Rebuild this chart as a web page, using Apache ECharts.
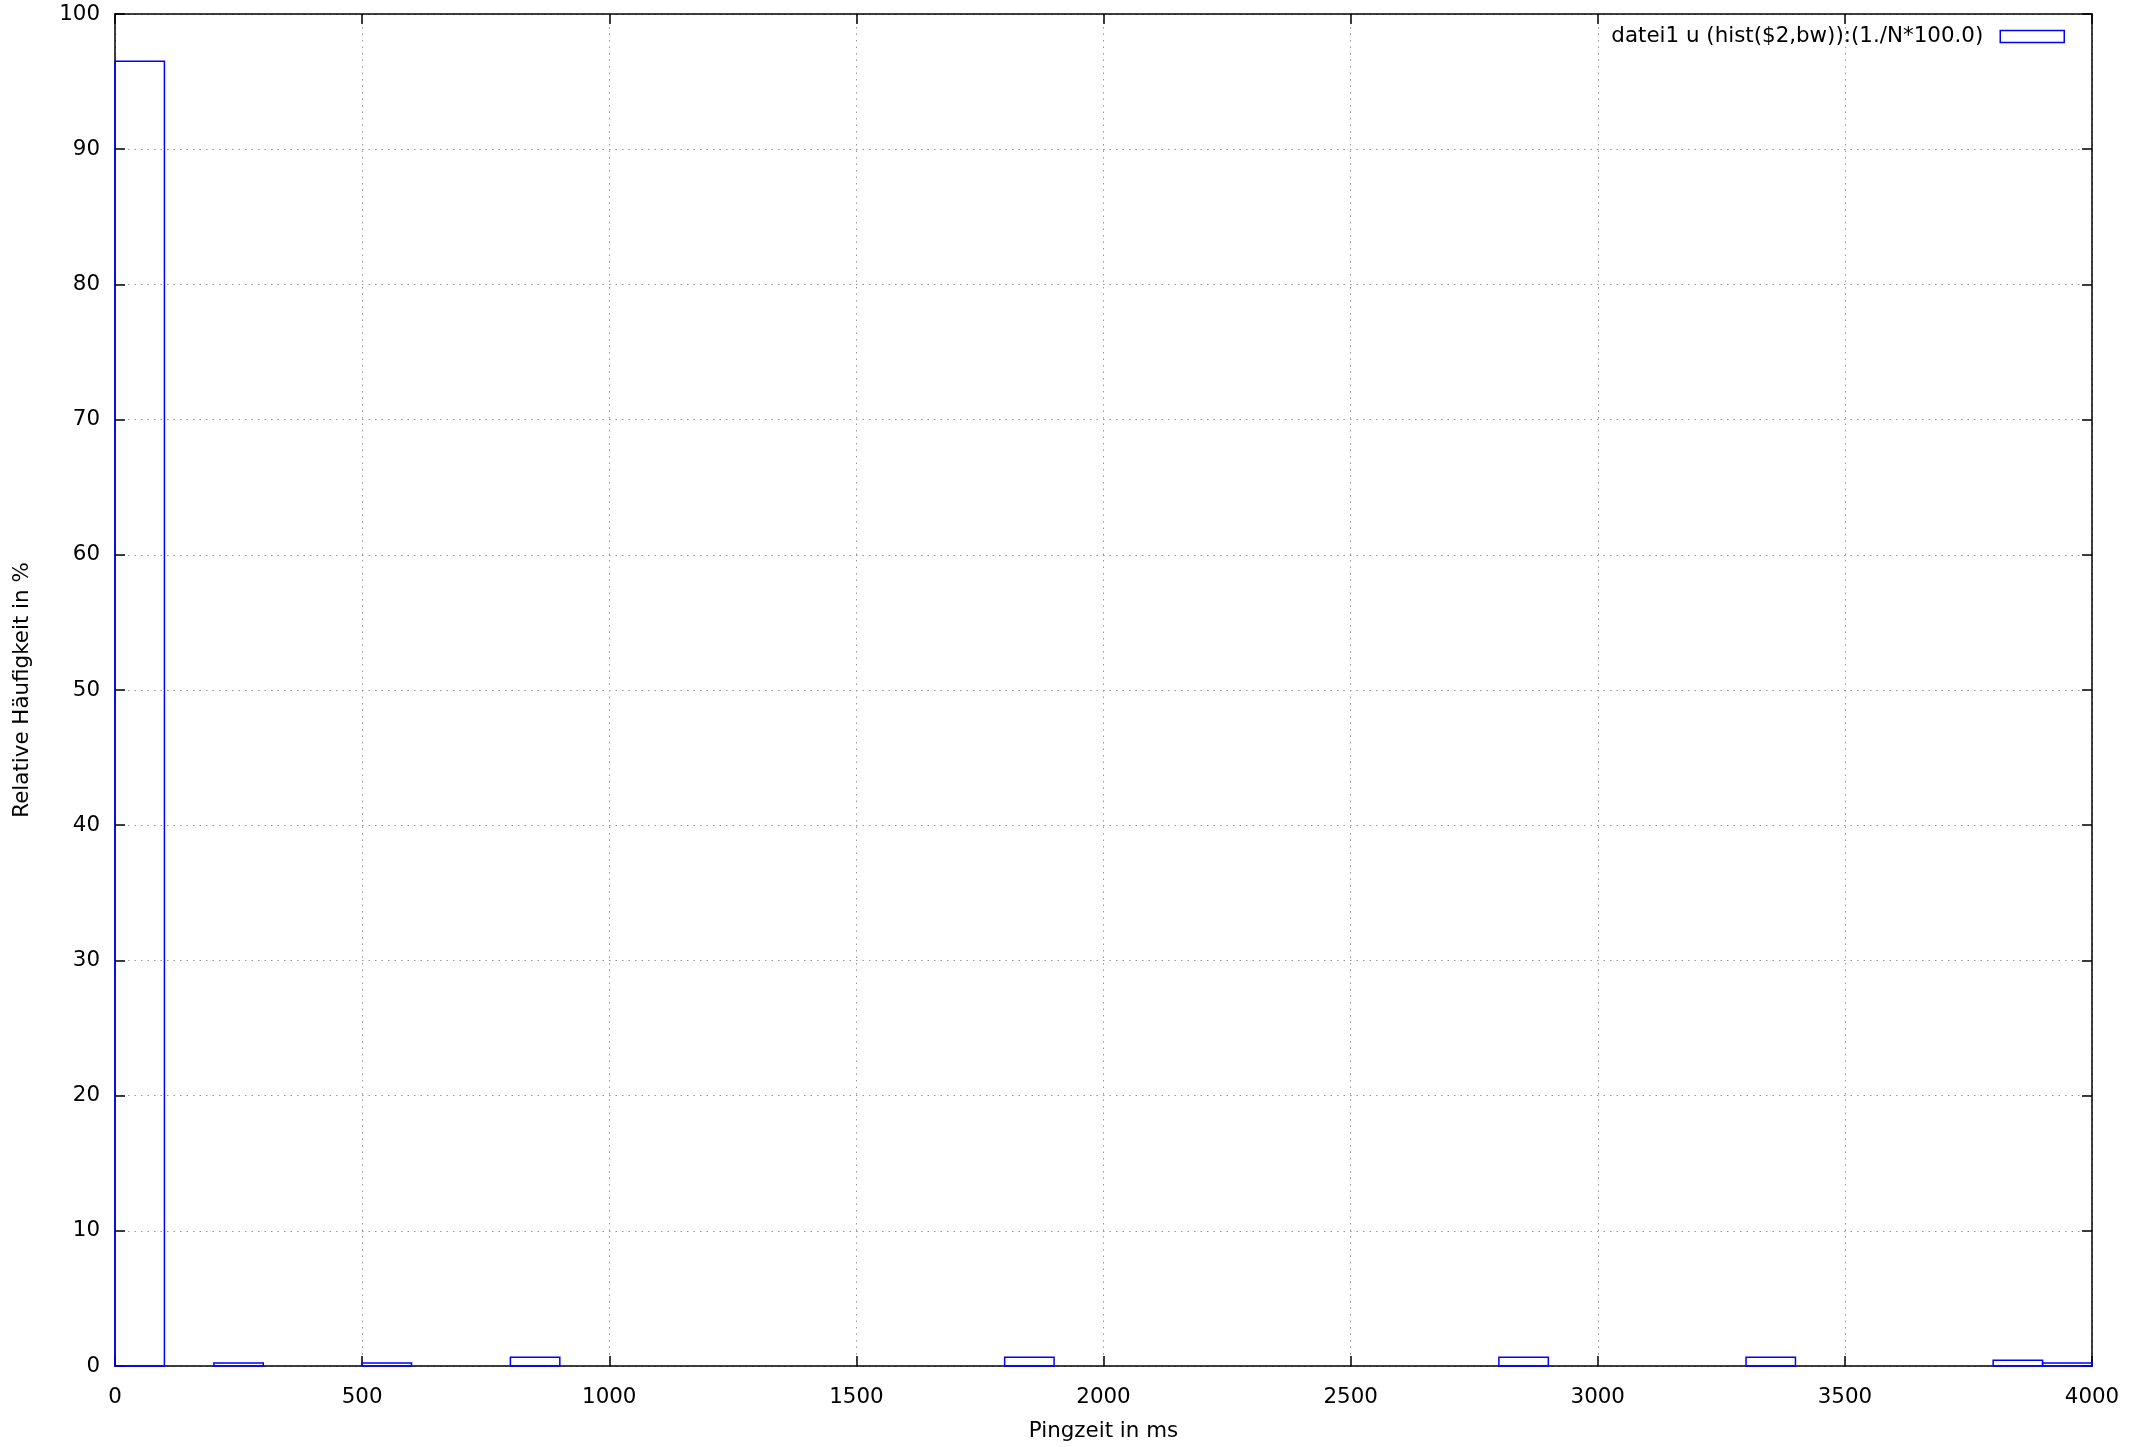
<!DOCTYPE html>
<html>
<head>
<meta charset="utf-8">
<script src="https://cdn.jsdelivr.net/npm/echarts@6/dist/echarts.min.js"></script>
<style>html,body{margin:0;padding:0;background:#fff}#c{width:2146px;height:1447px}</style>
</head>
<body>
<div id="c"></div>
<script>
// Histogram bins (ms) and relative frequency (%)
const binStart = [0, 200, 500, 800, 1800, 2800, 3300, 3800, 3900];
const binWidth = 100;
const percent = [96.5, 0.22, 0.22, 0.65, 0.65, 0.65, 0.65, 0.43, 0.22];
const xTicks = [0, 500, 1000, 1500, 2000, 2500, 3000, 3500, 4000];
const yTicks = [0, 10, 20, 30, 40, 50, 60, 70, 80, 90, 100];
const seriesName = 'datei1 u (hist($2,bw)):(1./N*100.0)';
const xName = 'Pingzeit in ms';
const yName = 'Relative Häufigkeit in %';

const FONT = 'DejaVu Sans';
const FS = 21.4;
const data = binStart.map((s, i) => [s, s + binWidth, percent[i]]);

const chart = echarts.init(document.getElementById('c'), null, {renderer: 'canvas'});
const gridLine = {show: true, lineStyle: {color: '#959595', width: 1, type: [1.5, 5]}};
const tickCommon = {show: true, inside: true, length: 10, lineStyle: {color: '#000', width: 1.5}};
chart.setOption({
  animation: false,
  backgroundColor: '#fff',
  grid: {left: 115, right: 54, top: 14, bottom: 79, containLabel: false},
  legend: {
    show: true,
    right: 76, top: 21,
    align: 'right',
    itemWidth: 64, itemHeight: 12,
    textStyle: {fontFamily: FONT, fontSize: FS, color: '#000', padding: [4, 12, 0, 0]},
    data: [{name: seriesName, icon: 'rect',
      itemStyle: {color: 'rgba(0,0,0,0)', borderColor: '#0000ff', borderWidth: 1.5}}]
  },
  xAxis: [{
    type: 'value', min: 0, max: 4000, interval: 500,
    name: xName, nameLocation: 'middle', nameGap: 55,
    nameTextStyle: {fontFamily: FONT, fontSize: FS, color: '#000'},
    axisLine: {show: true, onZero: false, lineStyle: {color: '#000', width: 1.5}},
    axisTick: tickCommon,
    axisLabel: {fontFamily: FONT, fontSize: FS, color: '#000', margin: 21,
      formatter: v => xTicks.includes(v) ? String(v) : ''},
    splitLine: gridLine
  }, {
    type: 'value', min: 0, max: 4000, interval: 500, position: 'top',
    axisLine: {show: true, onZero: false, lineStyle: {color: '#000', width: 1.5}},
    axisTick: tickCommon, axisLabel: {show: false}, splitLine: {show: false}
  }],
  yAxis: [{
    type: 'value', min: 0, max: 100, interval: 10,
    name: yName, nameLocation: 'middle', nameGap: 82, nameRotate: 90,
    nameTextStyle: {fontFamily: FONT, fontSize: FS, color: '#000'},
    axisLine: {show: true, onZero: false, lineStyle: {color: '#000', width: 1.5}},
    axisTick: tickCommon,
    axisLabel: {fontFamily: FONT, fontSize: FS, color: '#000', margin: 15,
      formatter: v => yTicks.includes(v) ? String(v) : ''},
    splitLine: gridLine
  }, {
    type: 'value', min: 0, max: 100, interval: 10, position: 'right',
    axisLine: {show: true, onZero: false, lineStyle: {color: '#000', width: 1.5}},
    axisTick: tickCommon, axisLabel: {show: false}, splitLine: {show: false}
  }],
  series: [{
    name: seriesName,
    type: 'custom',
    xAxisIndex: 0, yAxisIndex: 0,
    itemStyle: {color: '#0000ff'},
    renderItem: function (params, api) {
      const p0 = api.coord([api.value(0), api.value(2)]);
      const p1 = api.coord([api.value(1), 0]);
      return {
        type: 'rect',
        shape: {x: p0[0], y: p0[1], width: p1[0] - p0[0], height: p1[1] - p0[1]},
        style: {fill: 'none', stroke: '#0000ff', lineWidth: 1.5}
      };
    },
    encode: {x: [0, 1], y: 2},
    data: data
  }]
});
</script>
</body>
</html>
